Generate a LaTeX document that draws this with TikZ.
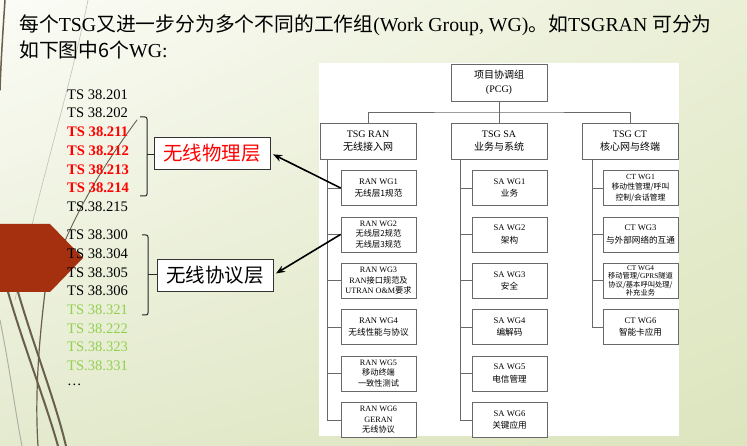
\documentclass[tikz,border=0pt]{standalone}
\usepackage{fontspec}
\setmainfont{Liberation Serif}
\newfontfamily\cjk{Noto Sans CJK SC}
\newcommand\zh[1]{{\cjk #1}}
\usetikzlibrary{arrows.meta,shadings}
\definecolor{specred}{RGB}{255,0,0}
\definecolor{specgreen}{RGB}{146,208,80}
\definecolor{slidebrown}{RGB}{165,48,16}
\definecolor{curvegray}{RGB}{105,95,75}
\definecolor{boxgray}{RGB}{105,105,105}
\definecolor{bgul}{RGB}{251,252,246}
\definecolor{bgur}{RGB}{234,239,214}
\definecolor{bgll}{RGB}{228,234,206}
\definecolor{bglr}{RGB}{220,229,190}
\begin{document}
\begin{tikzpicture}[x=1pt, y=-1pt,
    spec/.style={anchor=west, inner sep=0pt, font=\fontsize{14.6}{18}\selectfont},
    hot/.style={spec, text=specred, font=\fontsize{14.6}{18}\selectfont\bfseries},
    later/.style={spec, text=specgreen},
    layer/.style={draw=black!80, line width=0.8pt, fill=white, minimum width=116pt,
      minimum height=32pt, inner sep=0pt, font=\cjk\fontsize{19.5}{22}\selectfont},
    brk/.style={draw=black!85, line width=1pt, rounded corners=2pt},
    pointer/.style={-{Stealth[length=9pt,width=7pt]}, line width=1.6pt, shorten >=3pt},
    wg/.style={draw=boxgray, line width=0.7pt, fill=white, minimum width=75pt,
      minimum height=35pt, inner sep=0pt, align=center, font=\fontsize{8.6}{12.5}\selectfont},
    wgdense/.style={wg, font=\fontsize{8.2}{10.6}\selectfont},
    tsg/.style={wg, minimum width=96pt, minimum height=36pt, font=\fontsize{10}{13.3}\selectfont},
    link/.style={draw=boxgray, line width=0.7pt},
    deco/.style={draw=curvegray, line cap=round}]
  \useasboundingbox (0,0) rectangle (747,446);
  % slide background
  \shade[upper left=bgul, upper right=bgur, lower left=bgll, lower right=bglr]
    (0,0) rectangle (747,446);
  % side ornament
  \draw[deco, line width=0.6pt, curvegray!40] (88,0) .. controls (70,90) and (35,200) .. (15,300);
  \draw[deco, line width=0.9pt] (137,120) .. controls (100,170) and (70,220) .. (50,280);
  \draw[deco, line width=1.5pt] (5,0) .. controls (3,30) and (1,60) .. (0,90);
  \draw[deco, line width=1.2pt] (45,292) .. controls (38,350) and (35,400) .. (38,446);
  \draw[deco, line width=2pt] (8,292) .. controls (25,350) and (45,400) .. (58,446);
  \draw[deco, line width=2pt] (18,292) .. controls (35,350) and (55,400) .. (66,446);
  \draw[deco, line width=1pt, curvegray!50] (0,320) .. controls (10,370) and (15,410) .. (22,446);
  \fill[slidebrown] (0,224) -- (50,224) -- (83,258) -- (50,292) -- (0,292) -- cycle;
  % heading
  \node[anchor=west, inner sep=0pt, font=\fontsize{19.8}{25}\selectfont] (title1) at (19,25)
    {\zh{每个}TSG\zh{又进一步分为多个不同的工作组}(Work Group, WG)\zh{。如}TSGRAN \zh{可分为}};
  \node[anchor=west, inner sep=0pt, font=\fontsize{19.8}{25}\selectfont] (title2) at (19,50)
    {\zh{如下图中6个}WG:};
  % specification lists
  \foreach \t/\s [count=\i] in {TS 38.201/spec, TS 38.202/spec, TS 38.211/hot, TS 38.212/hot,
      TS 38.213/hot, TS 38.214/hot, TS.38.215/spec}
    \node[\s] (a\i) at (67,75.8+18.7*\i) {\t};
  \foreach \t/\s [count=\i] in {TS 38.300/spec, TS 38.304/spec, TS 38.305/spec, TS 38.306/spec,
      TS 38.321/later, TS 38.222/later, TS.38.323/later, TS.38.331/later}
    \node[\s] (b\i) at (67,216.3+18.7*\i) {\t};
  \node[spec] (b9) at (67,384.6) {\ldots};
  % layers
  \node[layer, text=specred] (phy) at (212,153) {无线物理层};
  \node[layer] (pro) at (215,275) {无线协议层};
  \draw[brk] (140,117) -- (147,117) -- (147,196) -- (140,196);
  \coordinate (brk1) at (147,155);
  \draw[brk] (brk1) -- (brk1 -| phy.west);
  \draw[brk] (142,235) -- (148,235) -- (148,315) -- (142,315);
  \coordinate (brk2) at (148,275);
  \draw[brk] (brk2) -- (brk2 -| pro.west);
  % organisation chart
  \fill[white] (319,63) rectangle (679,436);
  \node[tsg, minimum height=37pt] (pcg) at (499,82.5) {\zh{项目协调组}\\(PCG)};
  \node[tsg] (ran) at (368,141) {TSG RAN\\\zh{无线接入网}};
  \node[tsg] (sa) at (499,141) {TSG SA\\\zh{业务与系统}};
  \node[tsg] (ct) at (630,141) {TSG CT\\\zh{核心网与终端}};
  \coordinate (topbus) at (499,112);
  \draw[link] (ran.north) |- (topbus) -| (ct.north);
  \draw[link] (pcg.south) -- (sa.north);
  % RAN groups
  \node[wg] (ranwg1) at (378.5,188) {RAN WG1\\\zh{无线层1规范}};
  \node[wgdense] (ranwg2) at (378.5,234.4) {RAN WG2\\\zh{无线层2规范}\\\zh{无线层3规范}};
  \node[wgdense] (ranwg3) at (378.5,280.8) {RAN WG3\\RAN\zh{接口规范及}\\UTRAN O\&M\zh{要求}};
  \node[wg] (ranwg4) at (378.5,327.2) {RAN WG4\\\zh{无线性能与协议}};
  \node[wgdense] (ranwg5) at (378.5,373.6) {RAN WG5\\\zh{移动终端}\\\zh{一致性测试}};
  \node[wgdense] (ranwg6) at (378.5,420) {RAN WG6\\GERAN\\\zh{无线协议}};
  \coordinate (ranbus) at (327,159);
  \draw[link] (ranbus) |- (ranwg6.west);
  \foreach \i in {1,...,5}
    \draw[link] (ranwg\i.west) -- (ranwg\i.west -| ranbus);
  % SA groups
  \node[wg] (sawg1) at (509.5,188) {SA WG1\\\zh{业务}};
  \node[wg] (sawg2) at (509.5,234.4) {SA WG2\\\zh{架构}};
  \node[wg] (sawg3) at (509.5,280.8) {SA WG3\\\zh{安全}};
  \node[wg] (sawg4) at (509.5,327.2) {SA WG4\\\zh{编解码}};
  \node[wg] (sawg5) at (509.5,373.6) {SA WG5\\\zh{电信管理}};
  \node[wg] (sawg6) at (509.5,420) {SA WG6\\\zh{关键应用}};
  \coordinate (sabus) at (460,159);
  \draw[link] (sabus) |- (sawg6.west);
  \foreach \i in {1,...,5}
    \draw[link] (sawg\i.west) -- (sawg\i.west -| sabus);
  % CT groups
  \node[wgdense, font=\fontsize{7.8}{10.8}\selectfont] (ctwg1) at (640.5,188)
    {CT WG1\\\zh{移动性管理/呼叫}\\\zh{控制/会话管理}};
  \node[wg] (ctwg3) at (640.5,234.4) {CT WG3\\\zh{与外部网络的互通}};
  \node[wg, font=\fontsize{7.3}{8.6}\selectfont] (ctwg4) at (640.5,280.8)
    {CT WG4\\\zh{移动管理/}GPRS\zh{隧道}\\\zh{协议/基本呼叫处理/}\\\zh{补充业务}};
  \node[wg] (ctwg6) at (640.5,327.2) {CT WG6\\\zh{智能卡应用}};
  \coordinate (ctbus) at (592,159);
  \draw[link] (ctbus) |- (ctwg6.west);
  \foreach \n in {ctwg1,ctwg3,ctwg4}
    \draw[link] (\n.west) -- (\n.west -| ctbus);
  % arrows to the layers
  \draw[pointer] (ranwg1.west) -- (phy.east);
  \draw[pointer] (ranwg2.west) -- (pro.east);
\end{tikzpicture}
\end{document}
